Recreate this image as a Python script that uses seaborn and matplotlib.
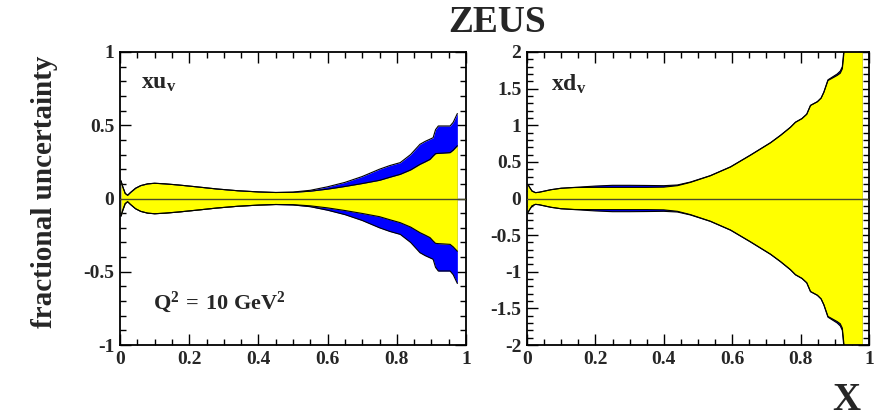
import numpy as np
import pandas as pd
import matplotlib
matplotlib.use("Agg")
import matplotlib.pyplot as plt
from matplotlib.ticker import MultipleLocator
import seaborn as sns

# xu_v fractional uncertainty (half-widths of the symmetric bands)
x_u = [0.003, 0.008, 0.015, 0.022, 0.03, 0.045, 0.06, 0.08, 0.1, 0.13, 0.17, 0.22,
       0.28, 0.34, 0.4, 0.45, 0.5, 0.55, 0.6, 0.65, 0.7, 0.75, 0.78, 0.81, 0.84,
       0.867, 0.882, 0.896, 0.905, 0.912, 0.92, 0.935, 0.954, 0.963, 0.975]
u_inner = [0.12, 0.08, 0.035, 0.022, 0.04, 0.07, 0.088, 0.1, 0.104, 0.1, 0.092, 0.08,
           0.065, 0.053, 0.045, 0.041, 0.042, 0.05, 0.064, 0.082, 0.102, 0.124, 0.145, 0.165, 0.195,
           0.233, 0.25, 0.267, 0.29, 0.306, 0.308, 0.31, 0.313, 0.33, 0.36]
u_outer = [0.12, 0.08, 0.035, 0.022, 0.04, 0.07, 0.088, 0.1, 0.104, 0.1, 0.092, 0.08,
           0.065, 0.053, 0.045, 0.041, 0.044, 0.056, 0.08, 0.11, 0.15, 0.2, 0.225, 0.245, 0.3,
           0.37, 0.39, 0.405, 0.415, 0.47, 0.495, 0.495, 0.495, 0.52, 0.58]

# xd_v fractional uncertainty
x_d = [0.003, 0.008, 0.015, 0.025, 0.035, 0.05, 0.07, 0.1, 0.14, 0.2, 0.25, 0.3, 0.35,
       0.4, 0.44, 0.478, 0.536, 0.595, 0.653, 0.712, 0.741, 0.77, 0.785, 0.804, 0.818,
       0.829, 0.849, 0.86, 0.868, 0.88, 0.907, 0.916, 0.922, 0.927, 0.94, 0.982]
d_inner = [0.19, 0.15, 0.1, 0.08, 0.085, 0.1, 0.12, 0.14, 0.15, 0.152, 0.152, 0.152, 0.152,
           0.155, 0.175, 0.22, 0.31, 0.43, 0.59, 0.76, 0.86, 0.97, 1.04, 1.09, 1.15,
           1.27, 1.32, 1.37, 1.45, 1.61, 1.68, 1.71, 1.77, 2.0, 2.6, 4.0]
d_outer = [0.19, 0.15, 0.1, 0.08, 0.085, 0.1, 0.12, 0.14, 0.152, 0.17, 0.18, 0.18, 0.178,
           0.175, 0.185, 0.225, 0.312, 0.432, 0.592, 0.762, 0.862, 0.972, 1.042, 1.092, 1.152,
           1.272, 1.322, 1.372, 1.452, 1.62, 1.7, 1.74, 1.8, 2.05, 2.7, 4.1]

YELLOW = "#ffff00"
BLUE = "#0000ff"
SERIF = "Liberation Serif"

sns.set_theme(style="ticks")
plt.rcParams["font.family"] = [SERIF, "DejaVu Serif"]
plt.rcParams["font.weight"] = "bold"
plt.rcParams["mathtext.fontset"] = "custom"
plt.rcParams["mathtext.rm"] = SERIF + ":bold"
plt.rcParams["mathtext.bf"] = SERIF + ":bold"
plt.rcParams["mathtext.it"] = SERIF + ":bold"

fig = plt.figure(figsize=(8.84, 4.18), dpi=100)
ax_u = fig.add_axes([120 / 884, 1 - 345 / 418, 346 / 884, 293 / 418])
ax_d = fig.add_axes([527 / 884, 1 - 345 / 418, 342 / 884, 293 / 418])


def draw_band(ax, x, inner, outer):
    x = np.asarray(x)
    inner = np.asarray(inner)
    outer = np.asarray(outer)
    ax.fill_between(x, -outer, outer, color=BLUE, lw=0, zorder=1)
    ax.fill_between(x, -inner, inner, color=YELLOW, lw=0, zorder=2)
    df = pd.DataFrame({"x": np.concatenate([x, x, x, x]),
                       "y": np.concatenate([outer, -outer, inner, -inner]),
                       "edge": np.repeat(["o+", "o-", "i+", "i-"], len(x))})
    sns.lineplot(data=df, x="x", y="y", units="edge", estimator=None, sort=False,
                 color="black", lw=0.8, ax=ax, zorder=3, legend=False)
    ax.axhline(0, color="#4a4a2a", lw=1.0, zorder=4)


draw_band(ax_u, x_u, u_inner, u_outer)
draw_band(ax_d, x_d, d_inner, d_outer)

for ax, lim in ((ax_u, 1), (ax_d, 2)):
    ax.set_xlim(0, 1)
    ax.set_ylim(-lim, lim)
    ax.set_xlabel("")
    ax.set_ylabel("")
    ax.xaxis.set_major_locator(MultipleLocator(0.2))
    ax.xaxis.set_minor_locator(MultipleLocator(0.05))
    ax.yaxis.set_major_locator(MultipleLocator(0.5))
    ax.yaxis.set_minor_locator(MultipleLocator(0.1))
    ax.tick_params(which="both", direction="in", top=True, right=True,
                   width=1.0, color="black", labelsize=14, pad=4)
    ax.tick_params(which="major", length=8)
    ax.tick_params(which="minor", length=4)
    for s in ax.spines.values():
        s.set_linewidth(1.3)
        s.set_color("black")
    ax.set_xticks([0, 0.2, 0.4, 0.6, 0.8, 1])
    ax.set_xticklabels(["0", "0.2", "0.4", "0.6", "0.8", "1"], fontweight="bold")

ax_u.set_yticks([-1, -0.5, 0, 0.5, 1])
ax_u.set_yticklabels(["-1", "-0.5", "0", "0.5", "1"], fontweight="bold")
ax_d.set_yticks([-2, -1.5, -1, -0.5, 0, 0.5, 1, 1.5, 2])
ax_d.set_yticklabels(["-2", "-1.5", "-1", "-0.5", "0", "0.5", "1", "1.5", "2"], fontweight="bold")

ax_u.text(0.06, 0.93, r"$\mathrm{xu}_{\mathrm{v}}$", transform=ax_u.transAxes,
          fontsize=17, va="top", ha="left")
ax_d.text(0.07, 0.93, r"$\mathrm{xd}_{\mathrm{v}}$", transform=ax_d.transAxes,
          fontsize=17, va="top", ha="left")
ax_u.text(0.095, 0.147, r"$\mathrm{Q}^{2}\mathrm{\,=\,10\ GeV}^{2}$", transform=ax_u.transAxes,
          fontsize=16, va="center", ha="left")

fig.text(497 / 884, 1 - 22 / 418, "ZEUS", fontsize=27, fontweight="bold",
         ha="center", va="center")
fig.text(45 / 884, 1 - 192 / 418, "fractional uncertainty", fontsize=21,
         fontweight="bold", rotation=90, ha="center", va="center")
fig.text(846 / 884, 1 - 400 / 418, "X", fontsize=28, fontweight="bold",
         ha="center", va="center")

fig.savefig("out.png", dpi=100)
